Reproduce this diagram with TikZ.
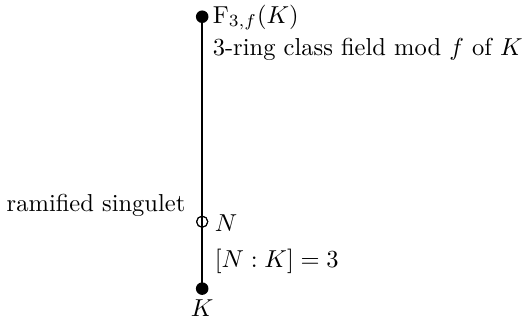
\documentclass[tikz,border=0pt]{standalone}
\usepackage{amsmath}
\usepackage{tikz}
\usetikzlibrary{positioning}
\tikzset{
  % Fields on the tower
  fld/.style={circle,fill=black,inner sep=0pt,minimum size=0.18cm},
  ramfld/.style={circle,draw=black,thin,inner sep=0pt,minimum size=0.16cm},
  % Tower line and labels
  tower/.style={line width=0.8pt},
  flb/.style={inner sep=1pt,anchor=west}
}
\begin{document}
\begin{tikzpicture}
  \useasboundingbox (0,0) rectangle (7.53,4.63);

  % --- Nodes ---
  \node[fld]    (top) at (2.90,4.39) {};
  \node[ramfld] (n)   at (2.90,1.45) {};
  \node[fld]    (k)   at (2.90,0.49) {};

  % --- Tower ---
  \draw[tower] (top.center) -- (k.center);
  \node[ramfld] at (n) {};

  % --- Labels ---
  \node[flb] (toplb) at (3.01,4.38) {$\mathrm{F}_{3,f}(K)$};
  \node[flb] (topdesc) at (3.01,3.915) {3-ring class field mod $f$ of $K$};
  \node[flb] (nlb) at (3.04,1.43) {$N$};
  \node[flb] (deg) at (3.04,0.875) {$[N:K]=3$};
  \node[inner sep=1pt,anchor=east] (ram) at (2.70,1.69) {ramified singulet};
  \node[inner sep=1pt] (klb) at (2.90,0.21) {$K$};
\end{tikzpicture}
\end{document}
